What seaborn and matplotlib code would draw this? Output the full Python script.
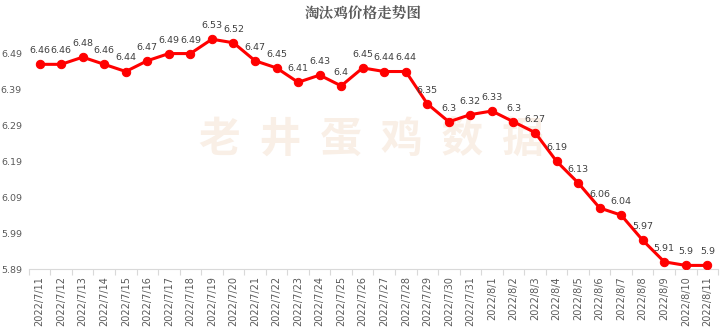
import matplotlib
matplotlib.use("Agg")
import matplotlib.pyplot as plt
import seaborn as sns
import pandas as pd
import numpy as np

dates = ["2022/7/11", "2022/7/12", "2022/7/13", "2022/7/14", "2022/7/15", "2022/7/16",
         "2022/7/17", "2022/7/18", "2022/7/19", "2022/7/20", "2022/7/21", "2022/7/22",
         "2022/7/23", "2022/7/24", "2022/7/25", "2022/7/26", "2022/7/27", "2022/7/28",
         "2022/7/29", "2022/7/30", "2022/7/31", "2022/8/1", "2022/8/2", "2022/8/3",
         "2022/8/4", "2022/8/5", "2022/8/6", "2022/8/7", "2022/8/8", "2022/8/9",
         "2022/8/10", "2022/8/11"]
prices = [6.46, 6.46, 6.48, 6.46, 6.44, 6.47, 6.49, 6.49, 6.53, 6.52, 6.47, 6.45,
          6.41, 6.43, 6.4, 6.45, 6.44, 6.44, 6.35, 6.3, 6.32, 6.33, 6.3, 6.27,
          6.19, 6.13, 6.06, 6.04, 5.97, 5.91, 5.9, 5.9]
yticks = [5.89, 5.99, 6.09, 6.19, 6.29, 6.39, 6.49]
title = "淘汰鸡价格走势图"
watermark = "老井蛋鸡数据"

sns.set_theme(style="white")
plt.rcParams['font.family'] = ['DejaVu Sans', 'Noto Sans CJK SC']

df = pd.DataFrame({"idx": np.arange(len(dates)), "price": prices})

fig = plt.figure(figsize=(7.21, 3.35), dpi=100)
ax = fig.add_axes([0.040, 0.197, 0.956, 0.746])

# watermark (behind the line)
ax.text(0.515, 0.58, "  ".join(watermark), fontsize=30, color="#f9efe6",
        family=['Noto Sans CJK SC'], fontweight='bold',
        ha='center', va='center', zorder=0, transform=fig.transFigure)

sns.lineplot(data=df, x="idx", y="price", ax=ax, color="#ff0000", linewidth=2.2,
             marker="o", markersize=6, markeredgecolor="#ff0000", zorder=3)

for i, v in enumerate(prices):
    ax.annotate(f"{v:g}", (i, v), xytext=(0, 6.5), textcoords="offset points",
                ha="center", va="bottom", fontsize=6.8, color="#404040", zorder=4)

ax.set_xlim(-0.5, len(dates) - 0.5)
ax.set_ylim(5.89, 6.586)
ax.set_yticks(yticks)
ax.set_yticklabels([f"{t:.2f}" for t in yticks], fontsize=6.8, color="#595959")
ax.set_xticks(np.arange(len(dates)))
ax.set_xticklabels(dates, rotation=90, fontsize=7.0, color="#595959")
ax.set_xticks(np.arange(len(dates) + 1) - 0.5, minor=True)
ax.tick_params(axis='x', which='major', length=0, pad=5)
ax.tick_params(axis='x', which='minor', length=4, color="#d9d9d9", width=0.8, bottom=True)
ax.tick_params(axis='y', length=0, pad=5)
ax.set_xlabel("")
ax.set_ylabel("")
for s in ["top", "right", "left"]:
    ax.spines[s].set_visible(False)
ax.spines["bottom"].set_color("#d9d9d9")
ax.spines["bottom"].set_linewidth(0.8)
ax.grid(False)

fig.text(0.503, 0.958, title, fontsize=10.5, color="#595959", fontweight='bold',
         family=['Noto Serif CJK SC', 'Noto Sans CJK SC'], ha='center', va='center')

fig.savefig("out.png", dpi=100)
